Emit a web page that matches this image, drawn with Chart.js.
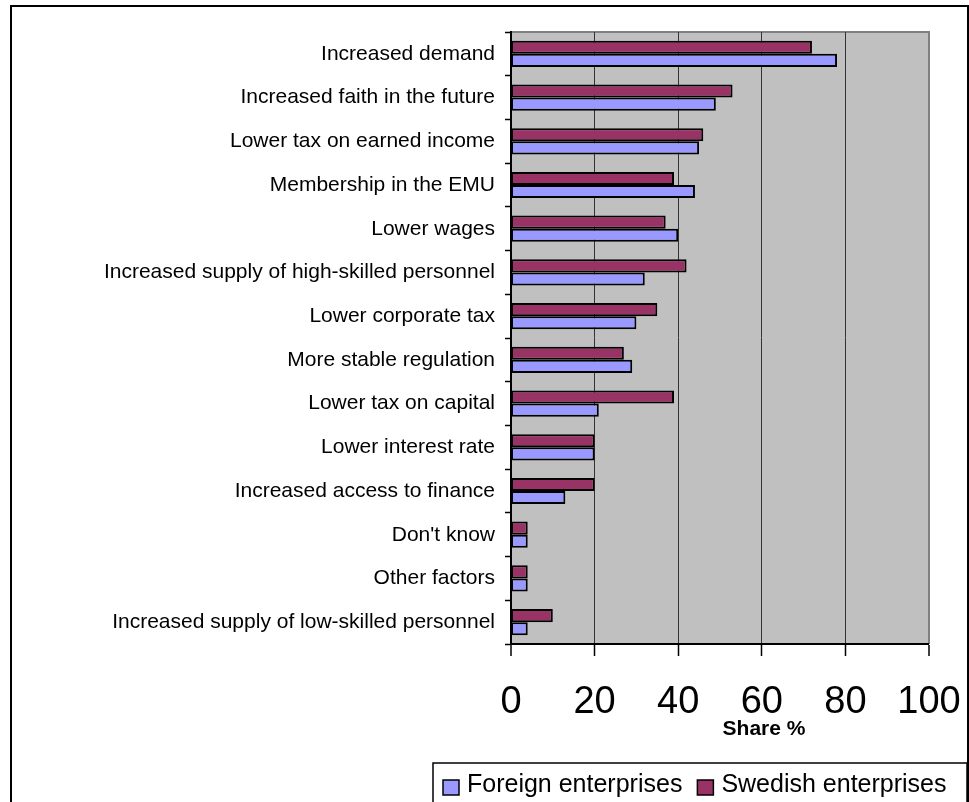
<!DOCTYPE html>
<html>
<head>
<meta charset="utf-8">
<title>Share %</title>
<script src="https://cdn.jsdelivr.net/npm/chart.js@4.4.1/dist/chart.umd.min.js"></script>
<style>
  html, body { margin: 0; padding: 0; background: #fff; }
  #wrap { position: relative; width: 969px; height: 802px; }
</style>
</head>
<body>
<div id="wrap"><canvas id="shareChart" width="969" height="802"></canvas></div>
<script>
const factors = [
  'Increased demand',
  'Increased faith in the future',
  'Lower tax on earned income',
  'Membership in the EMU',
  'Lower wages',
  'Increased supply of high-skilled personnel',
  'Lower corporate tax',
  'More stable regulation',
  'Lower tax on capital',
  'Lower interest rate',
  'Increased access to finance',
  "Don't know",
  'Other factors',
  'Increased supply of low-skilled personnel'
];
const swedish = [72, 53, 46, 39, 37, 42, 35, 27, 39, 20, 20, 4, 4, 10];
const foreign = [78, 49, 45, 44, 40, 32, 30, 29, 21, 20, 13, 4, 4, 4];
const xTicks = [0, 20, 40, 60, 80, 100];
const axisTitle = 'Share %';

const FONT = '"Liberation Sans", Arial, sans-serif';

// grey plot area, frame, axis title and the boxed legend
const decor = {
  id: 'decor',
  beforeDraw(chart) {
    const { ctx, chartArea: a } = chart;
    ctx.save();
    ctx.fillStyle = '#fff';
    ctx.fillRect(0, 0, chart.width, chart.height);
    ctx.fillStyle = '#c0c0c0';
    ctx.fillRect(a.left, a.top, a.right - a.left, a.bottom - a.top);
    ctx.strokeStyle = '#808080';
    ctx.lineWidth = 2;
    ctx.beginPath();
    ctx.moveTo(a.left, a.top);
    ctx.lineTo(a.right, a.top);
    ctx.lineTo(a.right, a.bottom);
    ctx.stroke();
    ctx.restore();
  },
  afterDraw(chart) {
    const { ctx } = chart;
    ctx.save();
    // outer frame
    ctx.strokeStyle = '#000';
    ctx.lineWidth = 2;
    ctx.strokeRect(11, 6, 957, 810);

    // axis title
    ctx.fillStyle = '#000';
    ctx.font = 'bold 21px ' + FONT;
    ctx.textAlign = 'center';
    ctx.textBaseline = 'alphabetic';
    ctx.fillText(axisTitle, 764, 735);

    // legend (Foreign first, as in the original)
    const items = [chart.data.datasets[1], chart.data.datasets[0]];
    ctx.lineWidth = 1.5;
    ctx.strokeRect(433, 763, 534, 50);
    ctx.font = '25px ' + FONT;
    ctx.textAlign = 'left';
    let x = 443;
    items.forEach(ds => {
      ctx.fillStyle = ds.backgroundColor;
      ctx.fillRect(x, 780, 16, 15);
      ctx.strokeStyle = '#000';
      ctx.strokeRect(x, 780, 16, 15);
      ctx.fillStyle = '#000';
      ctx.fillText(ds.label, x + 24, 792);
      x += 24 + ctx.measureText(ds.label).width + 15;
    });
    ctx.restore();
  }
};

const ctx = document.getElementById('shareChart').getContext('2d');
const shareChart = new Chart(ctx, {
  type: 'bar',
  data: {
    labels: factors,
    datasets: [
      {
        label: 'Swedish enterprises',
        data: swedish,
        backgroundColor: '#993366',
        borderColor: '#000',
        borderWidth: 2,
        borderSkipped: false
      },
      {
        label: 'Foreign enterprises',
        data: foreign,
        backgroundColor: '#9999ff',
        borderColor: '#000',
        borderWidth: 2,
        borderSkipped: false
      }
    ]
  },
  options: {
    indexAxis: 'y',
    responsive: false,
    animation: false,
    devicePixelRatio: 1,
    categoryPercentage: 0.6,
    barPercentage: 1.0,
    layout: { padding: { top: 32, right: 40, left: 0, bottom: 0 } },
    plugins: {
      legend: { display: false },
      tooltip: { enabled: false }
    },
    scales: {
      x: {
        min: 0,
        max: 100,
        afterFit(scale) {
          scale.height = 158;
          scale.paddingLeft = 0;
          scale.paddingRight = 0;
        },
        afterBuildTicks(scale) { scale.ticks = xTicks.map(v => ({ value: v })); },
        ticks: {
          color: '#000',
          padding: 24,
          font: { family: FONT, size: 38 }
        },
        grid: {
          color: c => (c.tick && c.tick.value === 100 ? '#808080' : '#333'),
          lineWidth: c => (c.tick && (c.tick.value === 0 || c.tick.value === 100) ? 0 : 1),
          tickColor: '#000',
          tickWidth: 1.5,
          tickLength: 12
        },
        border: { color: '#000', width: 2 }
      },
      y: {
        afterFit(scale) { scale.width = 511; },
        ticks: {
          color: '#000',
          padding: 10,
          font: { family: FONT, size: 21 }
        },
        grid: {
          offset: true,
          drawOnChartArea: false,
          tickColor: '#000',
          tickWidth: 1.5,
          tickLength: 6
        },
        border: { color: '#000', width: 2 }
      }
    }
  },
  plugins: [decor]
});
</script>
</body>
</html>
